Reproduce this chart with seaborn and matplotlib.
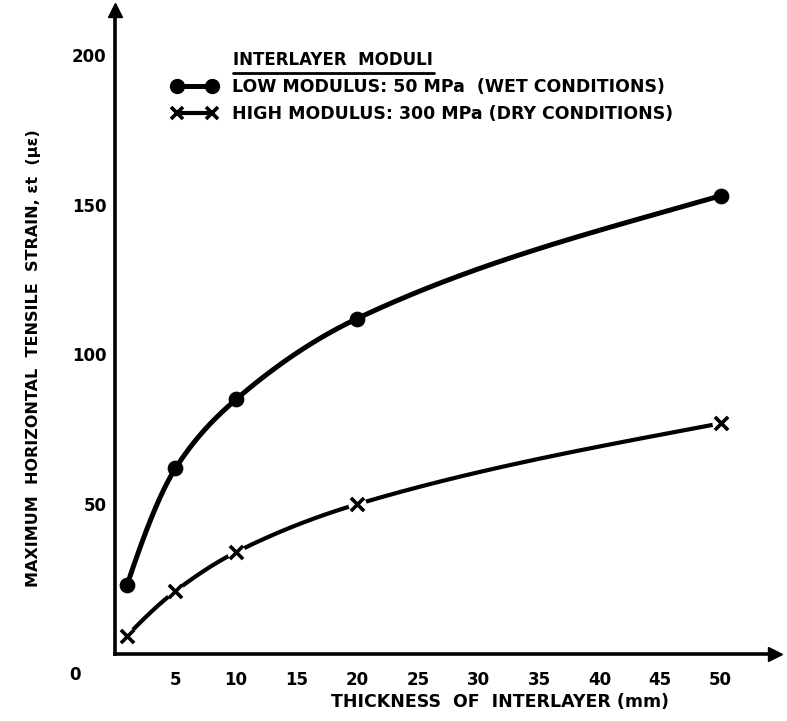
# interlayer thickness vs max horizontal tensile strain
import numpy as np
import pandas as pd
import seaborn as sns
from matplotlib import pyplot as plt
from matplotlib import transforms
from matplotlib.lines import Line2D

thickness = [1, 5, 10, 20, 50]
low_modulus = [23, 62, 85, 112, 153]
high_modulus = [6, 21, 34, 50, 77]
x_ticks = [5, 10, 15, 20, 25, 30, 35, 40, 45, 50]
y_ticks = [50, 100, 150, 200]


def pchip(x, y, xs):
    # monotone cubic curve through the read points (for drawing the smooth line)
    x = np.asarray(x, float)
    y = np.asarray(y, float)
    h = np.diff(x)
    d = np.diff(y) / h
    n = len(x)
    m = np.zeros(n)
    for k in range(1, n - 1):
        if d[k - 1] * d[k] > 0:
            w1 = 2 * h[k] + h[k - 1]
            w2 = h[k] + 2 * h[k - 1]
            m[k] = (w1 + w2) / (w1 / d[k - 1] + w2 / d[k])
    m[0] = ((2 * h[0] + h[1]) * d[0] - h[0] * d[1]) / (h[0] + h[1])
    if np.sign(m[0]) != np.sign(d[0]):
        m[0] = 0
    elif abs(m[0]) > 3 * abs(d[0]):
        m[0] = 3 * d[0]
    m[-1] = 0.85 * d[-1]
    i = np.clip(np.searchsorted(x, xs) - 1, 0, n - 2)
    t = (xs - x[i]) / h[i]
    h00 = 2 * t**3 - 3 * t**2 + 1
    h10 = t**3 - 2 * t**2 + t
    h01 = -2 * t**3 + 3 * t**2
    h11 = t**3 - t**2
    return h00 * y[i] + h10 * h[i] * m[i] + h01 * y[i + 1] + h11 * h[i] * m[i + 1]


sns.set_style('white')
plt.rcParams['font.family'] = ['DejaVu Sans']
plt.rcParams['font.weight'] = 'bold'
for key in ['text.color', 'axes.labelcolor', 'xtick.color', 'ytick.color']:
    plt.rcParams[key] = 'black'

fig = plt.figure(figsize=(7.87, 7.21), dpi=100)
ax = fig.add_axes([0.146, 0.093, 0.839, 0.893])

xs = np.linspace(thickness[0], thickness[-1], 400)
curves = pd.DataFrame({
    'x': np.concatenate([xs, xs]),
    'y': np.concatenate([pchip(thickness, low_modulus, xs), pchip(thickness, high_modulus, xs)]),
    'series': ['low'] * len(xs) + ['high'] * len(xs),
})
sns.lineplot(data=curves[curves.series == 'low'], x='x', y='y', color='black', lw=3.6, ax=ax, legend=False)
sns.lineplot(data=curves[curves.series == 'high'], x='x', y='y', color='black', lw=3.0, ax=ax, legend=False)

# gaps in the high-modulus line around its crosses
ax.scatter(thickness, high_modulus, s=170, color='white', zorder=3, linewidths=0)
sns.scatterplot(x=thickness, y=low_modulus, s=110, color='black', edgecolor='black', zorder=4, ax=ax)
sns.scatterplot(x=thickness, y=high_modulus, s=90, marker='x', color='black', linewidth=2.6, zorder=4, ax=ax)

ax.set_xlim(0, 54.5)
ax.set_ylim(0, 215)
ax.set_xticks(x_ticks)
ax.set_xticklabels([str(v) for v in x_ticks])
ax.set_yticks(y_ticks)
ax.set_yticklabels([str(v) for v in y_ticks])
ax.tick_params(axis='x', direction='in', length=8, width=1.5, pad=12, labelsize=12)
ax.tick_params(axis='y', direction='in', length=12, width=1.5, pad=6, labelsize=12)
for s in ['top', 'right']:
    ax.spines[s].set_visible(False)
for s in ['left', 'bottom']:
    ax.spines[s].set_linewidth(2.6)
    ax.spines[s].set_color('black')
ax.plot(1, 0, '>', color='black', ms=10, transform=ax.transAxes, clip_on=False)
ax.plot(0, 1, '^', color='black', ms=10, transform=ax.transAxes, clip_on=False)

blend = transforms.blended_transform_factory(ax.transData, ax.transAxes)
ax.text(-3.3, -0.033, '0', transform=blend, ha='center', va='center', fontsize=12, fontweight='bold')

ax.set_xlabel('THICKNESS  OF  INTERLAYER (mm)', fontsize=12.5, fontweight='bold')
ax.xaxis.set_label_coords(0.583, -0.06)
ax.set_ylabel('MAXIMUM  HORIZONTAL  TENSILE  STRAIN, εt  (με)', fontsize=11.5, fontweight='bold')
ax.yaxis.set_label_coords(-0.112, 0.46)

# legend
ax.text(0.179, 0.923, 'INTERLAYER  MODULI', transform=ax.transAxes, fontsize=12, fontweight='bold', va='center')
ax.plot([0.179, 0.484], [0.903, 0.903], color='black', lw=2, transform=ax.transAxes, clip_on=False)
handles = [
    Line2D([], [], color='black', lw=3.6, marker='o', ms=10),
    Line2D([], [], color='black', lw=3.0, marker='x', ms=9, mew=2.6),
]
ax.legend(handles, ['LOW MODULUS: 50 MPa  (WET CONDITIONS)', 'HIGH MODULUS: 300 MPa (DRY CONDITIONS)'],
          loc='upper left', bbox_to_anchor=(0.086, 0.894), frameon=False, fontsize=12.5,
          handlelength=2.6, handletextpad=0.86, labelspacing=0.5, numpoints=2,
          borderpad=0, borderaxespad=0)

fig.savefig('out.png', dpi=100)
